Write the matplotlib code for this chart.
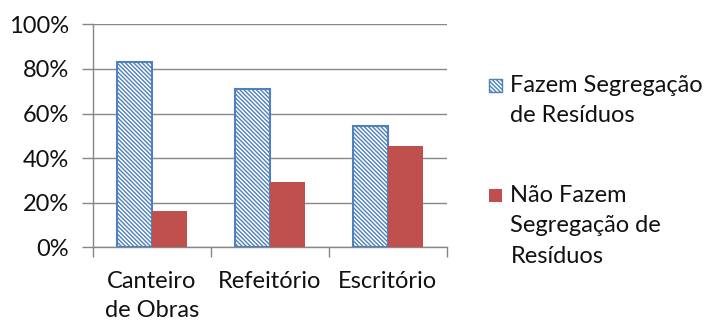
import numpy as np
import matplotlib
matplotlib.use('Agg')
import matplotlib.pyplot as plt
from matplotlib.patches import Rectangle

# data
categorias = ['Canteiro\nde Obras', 'Refeitório', 'Escritório']
fazem = [83.0, 71.0, 54.2]
nao_fazem = [16.2, 29.2, 45.4]
legenda = ['Fazem Segregação\nde Resíduos', 'Não Fazem\nSegregação de\nResíduos']
yticks = [0, 20, 40, 60, 80, 100]

azul = '#4F81BD'
vermelho = '#C0504D'
cinza = '#878787'
texto = '#111111'

plt.rcParams['font.family'] = ['Lato', 'DejaVu Sans']
plt.rcParams['hatch.linewidth'] = 1.0
plt.rcParams['hatch.color'] = azul
fs = 17
hachura = '\\' * 8

fig = plt.figure(figsize=(7.07, 3.23), dpi=100)
ax = fig.add_axes([92.7/707, 1-247.3/323, 354/707, 223/323])

x = np.arange(len(categorias))
w = 0.295
ax.bar(x - w/2, fazem, w, facecolor='white', edgecolor=azul, hatch=hachura,
       linewidth=1.5, zorder=3)
ax.bar(x + w/2, nao_fazem, w, color=vermelho, linewidth=0, zorder=3)

ax.set_xlim(-0.5, len(categorias) - 0.5)
ax.set_ylim(0, 100)
ax.set_yticks(yticks)
ax.set_yticklabels([f'{v}%' for v in yticks])
ax.set_xticks(x)
ax.set_xticklabels(categorias, linespacing=1.45)
ax.set_xticks(np.arange(-0.5, len(categorias)), minor=True)

ax.yaxis.grid(True, color=cinza, linewidth=1, zorder=0)
ax.tick_params(axis='y', length=8, width=1, color=cinza, pad=9,
               labelsize=fs, labelcolor=texto)
ax.tick_params(axis='x', which='major', length=0, pad=17,
               labelsize=fs, labelcolor=texto)
ax.tick_params(axis='x', which='minor', length=7, width=1, color=cinza)

for s in ['top', 'right']:
    ax.spines[s].set_visible(False)
for s in ['left', 'bottom']:
    ax.spines[s].set_color(cinza)
    ax.spines[s].set_linewidth(1)

# legend drawn by hand so the key sits on the first line of each label
estilos = [dict(facecolor='white', edgecolor=azul, hatch=hachura, linewidth=1),
           dict(facecolor=vermelho, edgecolor='none')]
topos = [75, 185]
for lab, est, top in zip(legenda, estilos, topos):
    fig.patches.append(Rectangle((489/707, 1-(top+17)/323), 13/707, 13/323,
                                 transform=fig.transFigure, figure=fig, **est))
    fig.text(510.5/707, 1-top/323, lab, fontsize=fs, color=texto,
             va='top', ha='left', linespacing=1.55)

fig.savefig('out.png', dpi=100)
